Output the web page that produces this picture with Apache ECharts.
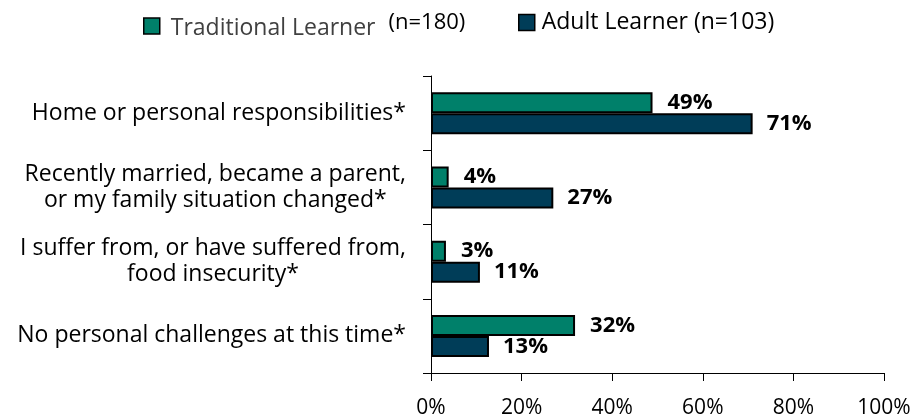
<!DOCTYPE html>
<html>
<head>
<meta charset="utf-8">
<script src="https://cdn.jsdelivr.net/npm/echarts@6/dist/echarts.min.js"></script>
<style>
  html, body { margin: 0; padding: 0; background: #fff; }
  #chart { width: 918px; height: 419px; }
</style>
</head>
<body>
<div id="chart"></div>
<script>
const categories = [
  'Home or personal responsibilities*',
  'Recently married, became a parent,\nor my family situation changed*',
  'I suffer from, or have suffered from,\nfood insecurity*',
  'No personal challenges at this time*'
];
const traditionalValues = [48.9, 3.9, 3.3, 31.8];
const adultValues = [71, 27, 10.8, 12.8];
const xTicks = [0, 20, 40, 60, 80, 100];

const font = 'Open Sans';
const chart = echarts.init(document.getElementById('chart'));

const legendBase = {
  itemWidth: 16,
  itemHeight: 16,
  icon: 'rect',
  itemStyle: { borderColor: '#000', borderWidth: 1.5 }
};

const option = {
  backgroundColor: '#fff',
  animation: false,
  legend: [
    Object.assign({}, legendBase, {
      left: 138,
      top: 7,
      data: ['Traditional Learner'],
      formatter: () => '{t|Traditional Learner}{n|(n=180)}',
      textStyle: {
        rich: {
          t: { fontFamily: font, fontSize: 23, color: '#404040', padding: [4, 13, 0, 6] },
          n: { fontFamily: font, fontSize: 22, color: '#000', padding: [0, 0, 6, 0] }
        }
      }
    }),
    Object.assign({}, legendBase, {
      left: 513,
      top: 6,
      data: ['Adult Learner'],
      formatter: () => '{n|Adult Learner (n=103)}',
      textStyle: {
        rich: {
          n: { fontFamily: font, fontSize: 23, color: '#000', padding: [0, 0, 0, 2] }
        }
      }
    })
  ],
  grid: { left: 431, right: 34, top: 76, bottom: 43 },
  xAxis: {
    type: 'value',
    min: 0,
    max: 100,
    interval: 20,
    splitLine: { show: false },
    axisLine: { show: true, lineStyle: { color: '#000', width: 1 } },
    axisTick: { show: true, length: 8, lineStyle: { color: '#000' } },
    axisLabel: {
      margin: 25,
      fontFamily: font,
      fontSize: 21,
      color: '#000',
      formatter: v => xTicks.includes(v) ? v + '%' : ''
    }
  },
  yAxis: {
    type: 'category',
    inverse: true,
    data: categories,
    axisLine: { show: true, lineStyle: { color: '#000', width: 1 } },
    axisTick: { show: true, length: 8, lineStyle: { color: '#000' } },
    axisLabel: {
      margin: 25,
      align: 'right',
      formatter: v => v.split('\n').map(line => '{c|' + line + '}').join('\n'),
      rich: {
        c: { fontFamily: font, fontSize: 23, lineHeight: 26, color: '#000', align: 'center' }
      }
    }
  },
  series: [
    {
      name: 'Traditional Learner',
      type: 'bar',
      data: traditionalValues,
      barWidth: 21,
      barGap: '0%',
      itemStyle: { color: '#00806a', borderColor: '#000', borderWidth: 2 },
      label: {
        show: true,
        position: 'right',
        distance: 15,
        fontFamily: font,
        fontSize: 22,
        fontWeight: 'bold',
        color: '#000',
        formatter: p => Math.round(p.value) + '%'
      }
    },
    {
      name: 'Adult Learner',
      type: 'bar',
      data: adultValues,
      barWidth: 21,
      barGap: '0%',
      itemStyle: { color: '#003d58', borderColor: '#000', borderWidth: 2 },
      label: {
        show: true,
        position: 'right',
        distance: 14,
        fontFamily: font,
        fontSize: 22,
        fontWeight: 'bold',
        color: '#000',
        formatter: p => Math.round(p.value) + '%'
      }
    }
  ]
};

chart.setOption(option);
</script>
</body>
</html>
